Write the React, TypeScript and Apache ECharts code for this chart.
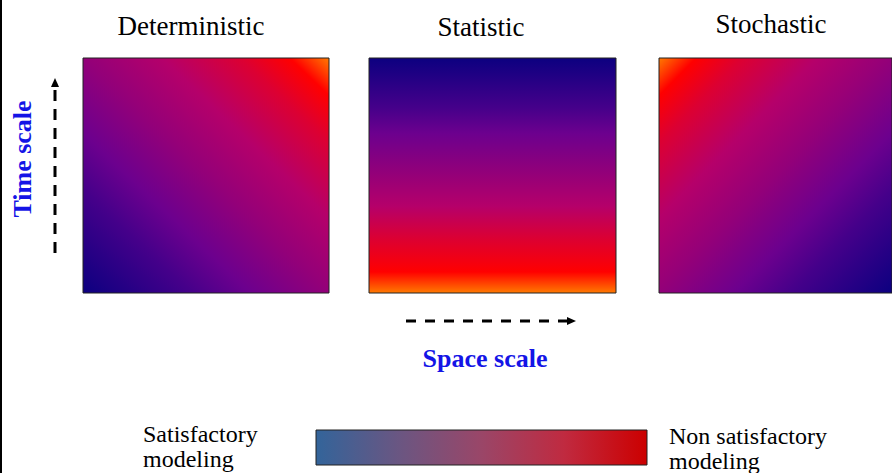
import React, { useEffect, useRef } from "react";
import * as echarts from "echarts";

// Panel titles
const panelTitles = ["Deterministic", "Statistic", "Stochastic"];
// Colour ramp (navy -> purple -> magenta -> red -> orange)
const rampColors = ["#0c0080", "#45008a", "#6c008e", "#930079", "#b5006a", "#dc0032", "#ff0000", "#ff7a00"];
// Positions of those colours along each panel's gradient direction
const deterministicStops = [0, 0.22, 0.34, 0.5, 0.66, 0.82, 0.92, 1];
const statisticStops = [0, 0.21, 0.32, 0.49, 0.63, 0.77, 0.91, 1];
const stochasticStops = [0, 0.22, 0.34, 0.5, 0.66, 0.82, 0.92, 1];
// Colour bar (legend) ramp
const legendColors = ["#33649a", "#6a5682", "#9a4668", "#c02a40", "#cc0000"];
const legendStops = [0, 0.25, 0.5, 0.75, 1];
const legendLabels = ["Satisfactory\nmodeling", "Non satisfactory\nmodeling"];
const axisLabels = ["Time scale", "Space scale"];
// Each panel covers the unit square in its own grid: [x0, y0, x1, y1]
const panelExtent = [0, 0, 1, 1];

const SERIF = "Liberation Serif, Times New Roman, Times, serif";

function makeStops(pos: number[], cols: string[]) {
  return pos.map((p, i) => ({ offset: p, color: cols[i] }));
}

export default function App() {
  const ref = useRef<HTMLDivElement>(null);
  useEffect(() => {
    if (!ref.current) return;
    const chart = echarts.init(ref.current, undefined, { renderer: "svg" });

    const gradients = [
      new echarts.graphic.LinearGradient(0, 1, 1, 0, makeStops(deterministicStops, rampColors)),
      new echarts.graphic.LinearGradient(0, 0, 0, 1, makeStops(statisticStops, rampColors)),
      new echarts.graphic.LinearGradient(1, 1, 0, 0, makeStops(stochasticStops, rampColors)),
      new echarts.graphic.LinearGradient(0, 0, 1, 0, makeStops(legendStops, legendColors)),
    ];

    const grids = [
      { left: 83, top: 58, width: 246, height: 235 },
      { left: 369, top: 58, width: 247, height: 235 },
      { left: 659, top: 58, width: 246, height: 235 },
      { left: 316, top: 430, width: 331, height: 35 },
    ];

    const makeRender = (idx: number) => (params: any, api: any) => {
      const p0 = api.coord([api.value(0), api.value(3)]);
      const p1 = api.coord([api.value(2), api.value(1)]);
      return {
        type: "rect",
        shape: { x: p0[0], y: p0[1], width: p1[0] - p0[0], height: p1[1] - p0[1] },
        style: { fill: gradients[idx], stroke: "#222", lineWidth: 1 },
      };
    };

    const titleStyle = (t: string) => ({
      text: t, fontFamily: SERIF, fontSize: 27, fill: "#000", align: "center", verticalAlign: "middle",
    });
    const axisStyle = (t: string) => ({
      text: t, fontFamily: SERIF, fontSize: 26, fontWeight: "bold", fill: "#1414e6", align: "center", verticalAlign: "middle",
    });
    const legendStyle = (t: string) => ({
      text: t, fontFamily: SERIF, fontSize: 24, lineHeight: 25, fill: "#000", align: "left", verticalAlign: "top",
    });

    const option: any = {
      animation: false,
      backgroundColor: "#ffffff",
      grid: grids.map((g) => ({ ...g, containLabel: false })),
      xAxis: grids.map((_, i) => ({ type: "value", min: 0, max: 1, show: false, gridIndex: i })),
      yAxis: grids.map((_, i) => ({ type: "value", min: 0, max: 1, show: false, gridIndex: i })),
      series: grids.map((_, i) => ({
        type: "custom",
        xAxisIndex: i,
        yAxisIndex: i,
        clip: false,
        silent: true,
        renderItem: makeRender(i),
        data: [panelExtent],
      })),
      graphic: [
        { type: "rect", shape: { x: 0, y: 0, width: 2, height: 473 }, style: { fill: "#000" } },
        { type: "text", x: 191, y: 26, style: titleStyle(panelTitles[0]) },
        { type: "text", x: 481, y: 27, style: titleStyle(panelTitles[1]) },
        { type: "text", x: 771, y: 24, style: titleStyle(panelTitles[2]) },
        { type: "text", x: 22, y: 159, rotation: Math.PI / 2, style: axisStyle(axisLabels[0]) },
        { type: "text", x: 485, y: 358, style: axisStyle(axisLabels[1]) },
        // vertical dashed arrow
        {
          type: "line",
          shape: { x1: 55, y1: 253, x2: 55, y2: 88 },
          style: { stroke: "#000", lineWidth: 3, lineDash: [11, 8] },
        },
        { type: "polygon", shape: { points: [[55, 78], [51, 87], [59, 87]] }, style: { fill: "#000" } },
        // horizontal dashed arrow
        {
          type: "line",
          shape: { x1: 406, y1: 321, x2: 568, y2: 321 },
          style: { stroke: "#000", lineWidth: 3, lineDash: [10, 9] },
        },
        { type: "polygon", shape: { points: [[576, 321], [567, 317], [567, 325]] }, style: { fill: "#000" } },
        { type: "text", x: 143, y: 421, style: legendStyle(legendLabels[0]) },
        { type: "text", x: 669, y: 423, style: legendStyle(legendLabels[1]) },
      ],
    };
    chart.setOption(option);
    return () => chart.dispose();
  }, []);

  return (
    <div
      ref={ref}
      style={{ position: "fixed", left: 0, top: 0, width: 892, height: 473 }}
    />
  );
}
